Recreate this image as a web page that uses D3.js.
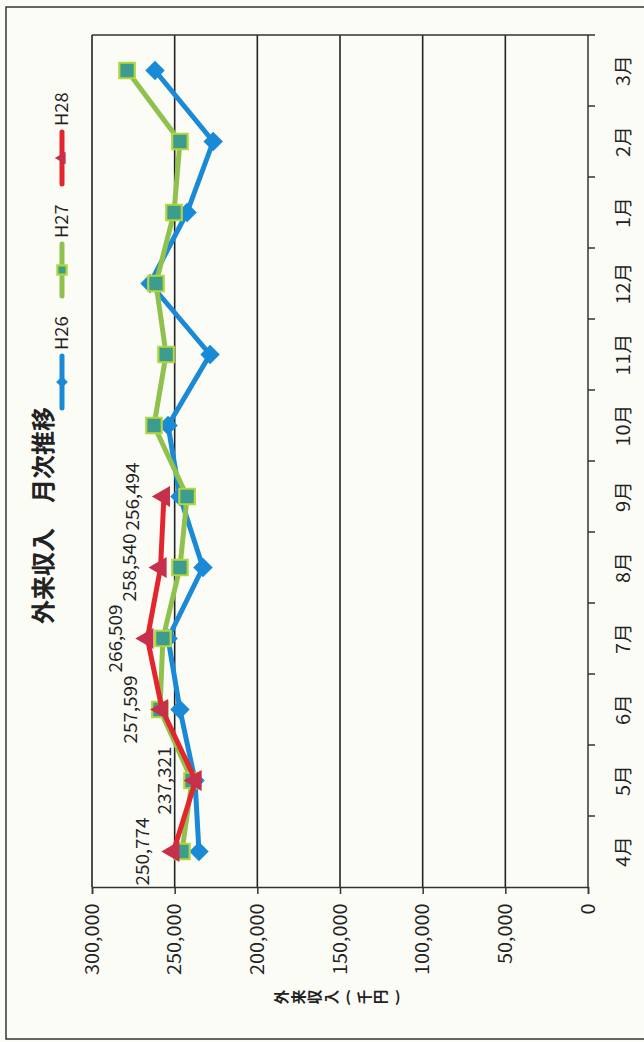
<!DOCTYPE html>
<html lang="ja">
<head>
<meta charset="utf-8">
<title>外来収入 月次推移</title>
<script src="https://cdn.jsdelivr.net/npm/d3@7"></script>
<style>
  body { margin: 0; background: #fcfcf7; }
  svg { display: block; }
  text { font-family: "Noto Sans CJK JP", "Noto Sans", sans-serif; fill: #222; }
</style>
</head>
<body>
<script>
// data (months run bottom to top, the chart is turned on its side)
var months = ["4月","5月","6月","7月","8月","9月","10月","11月","12月","1月","2月","3月"];
var seriesNames = ["H26","H27","H28"];
var h26 = [235300, 237700, 246800, 254000, 232900, 246800, 254000, 228600, 264900, 242500, 226700, 261900];
var h27 = [245600, 239500, 258900, 257100, 246800, 242500, 262500, 255200, 261300, 250400, 246800, 278800];
var h28 = [250774, 237321, 257599, 266509, 258540, 256494];
var valueTicks = [0, 50000, 100000, 150000, 200000, 250000, 300000];

var w = 644, h = 1042;
var colors = { H26: "#1a8ad6", H27: "#8fc14c", H28: "#e3262e" };

var svg = d3.select("body").append("svg")
  .attr("width", w)
  .attr("height", h);

// outer frame
svg.append("rect")
  .attr("x", 6).attr("y", 7)
  .attr("width", 660).attr("height", 1032)
  .attr("fill", "none")
  .attr("stroke", "#333")
  .attr("stroke-width", 1.5);

var xScale = d3.scaleLinear().domain([0, 300000]).range([588, 92]);
var yScale = d3.scaleBand().domain(months).range([887, 35]);
var yc = function(m) { return yScale(m) + yScale.bandwidth() / 2; };

// gridlines
svg.selectAll("line.grid")
  .data(valueTicks.filter(function(d) { return d > 0; }))
  .enter().append("line")
  .attr("class", "grid")
  .attr("x1", function(d) { return xScale(d); })
  .attr("x2", function(d) { return xScale(d); })
  .attr("y1", 35).attr("y2", 887)
  .attr("stroke", "#222").attr("stroke-width", 1.6);

// top border of plot area
svg.append("line")
  .attr("x1", 92).attr("x2", 588).attr("y1", 35).attr("y2", 35)
  .attr("stroke", "#333").attr("stroke-width", 1.5);

// value axis (at the bottom)
var xAxis = d3.axisBottom(xScale)
  .tickValues(valueTicks)
  .tickSize(7)
  .tickFormat(d3.format(","));
var gx = svg.append("g")
  .attr("transform", "translate(0,887)")
  .call(xAxis);
gx.select(".domain").attr("stroke", "#333").attr("stroke-width", 1.5);
gx.selectAll(".tick line").attr("stroke", "#333").attr("stroke-width", 1.5);
gx.selectAll(".tick text")
  .attr("transform", "rotate(-90) scale(1.1,1)")
  .attr("x", -15).attr("y", 0).attr("dy", "0.35em")
  .attr("text-anchor", "end")
  .attr("font-size", 18)
  .style("font-family", "\"Noto Sans CJK JP\", sans-serif")
  .attr("fill", "#222");

// axis title, stacked characters turned with the chart
var axisTitle = "外来収入(千円)".split("");
var tSpace = 16.5;
var tStart = 340 - (axisTitle.length - 1) * tSpace / 2;
svg.selectAll("text.atitle")
  .data(axisTitle)
  .enter().append("text")
  .attr("class", "atitle")
  .attr("transform", function(d, i) {
    var x = tStart + i * tSpace;
    return "translate(" + x + ",997)" + (d === "(" || d === ")" ? "" : " rotate(-90)");
  })
  .attr("text-anchor", "middle")
  .attr("dy", "0.35em")
  .attr("font-size", 14.5)
  .attr("font-weight", "bold")
  .text(function(d) { return d; });

// category axis (at the right)
svg.append("line")
  .attr("x1", 588).attr("x2", 588).attr("y1", 35).attr("y2", 887)
  .attr("stroke", "#333").attr("stroke-width", 1.5);
svg.selectAll("line.ctick")
  .data(months)
  .enter().append("line")
  .attr("class", "ctick")
  .attr("x1", 588).attr("x2", 595)
  .attr("y1", function(d) { return yScale(d); })
  .attr("y2", function(d) { return yScale(d); })
  .attr("stroke", "#333").attr("stroke-width", 1.5);
svg.selectAll("text.clabel")
  .data(months)
  .enter().append("text")
  .attr("class", "clabel")
  .attr("transform", function(d) { return "translate(624," + yc(d) + ") rotate(-90) scale(1.1,1)"; })
  .attr("text-anchor", "middle")
  .attr("dy", "0.35em")
  .attr("font-size", 18)
  .text(function(d) { return d; });

// series
var series = [
  { name: "H26", values: h26 },
  { name: "H27", values: h27 },
  { name: "H28", values: h28 }
];

var line = d3.line()
  .x(function(d) { return xScale(d.v); })
  .y(function(d) { return yc(d.m); });

function drawMarker(g, name, x, y, scale) {
  scale = scale || 1;
  if (name === "H26") {
    g.append("path")
      .attr("d", d3.symbol().type(d3.symbolSquare).size(190 * scale * scale)())
      .attr("transform", "translate(" + x + "," + y + ") rotate(45)")
      .attr("fill", colors.H26);
  } else if (name === "H27") {
    g.append("path")
      .attr("d", d3.symbol().type(d3.symbolSquare).size(240 * scale * scale)())
      .attr("transform", "translate(" + x + "," + y + ")")
      .attr("fill", "#3c9c8e")
      .attr("stroke", "#b4d63a")
      .attr("stroke-width", 2.2);
  } else {
    g.append("path")
      .attr("d", d3.symbol().type(d3.symbolTriangle).size(190 * scale * scale)())
      .attr("transform", "translate(" + x + "," + y + ") rotate(-90)")
      .attr("fill", "#c6304a");
  }
}

series.forEach(function(s) {
  var pts = s.values.map(function(v, i) { return { m: months[i], v: v }; });
  var g = svg.append("g");
  g.append("path")
    .datum(pts)
    .attr("d", line)
    .attr("fill", "none")
    .attr("stroke", colors[s.name])
    .attr("stroke-width", 5)
    .attr("stroke-linejoin", "round");
  pts.forEach(function(p) {
    drawMarker(g, s.name, xScale(p.v), yc(p.m));
  });
});

// data labels for H28
svg.selectAll("text.dlabel")
  .data(h28)
  .enter().append("text")
  .attr("class", "dlabel")
  .attr("transform", function(d, i) {
    return "translate(" + (xScale(d) - 31) + "," + yc(months[i]) + ") rotate(-90) scale(1.08,1)";
  })
  .attr("text-anchor", "middle")
  .attr("dy", "0.35em")
  .attr("font-size", 17.5)
  .text(function(d) { return d3.format(",")(d); });

// title, two words with a gap
svg.append("text")
  .attr("transform", "translate(44,576) rotate(-90)")
  .attr("text-anchor", "middle")
  .attr("dy", "0.35em")
  .attr("font-size", 24)
  .attr("font-weight", "bold")
  .text("外来収入");
svg.append("text")
  .attr("transform", "translate(44,455) rotate(-90)")
  .attr("text-anchor", "middle")
  .attr("dy", "0.35em")
  .attr("font-size", 24)
  .attr("font-weight", "bold")
  .text("月次推移");

// legend
var legendStep = 112;
seriesNames.forEach(function(name, i) {
  var y0 = 408 - i * legendStep;
  var g = svg.append("g");
  g.append("line")
    .attr("x1", 62).attr("x2", 62)
    .attr("y1", y0).attr("y2", y0 - 52)
    .attr("stroke", colors[name]).attr("stroke-width", 5)
    .attr("stroke-linecap", "round");
  drawMarker(g, name, 62, y0 - 26, 0.6);
  g.append("text")
    .attr("transform", "translate(62," + (y0 - 58) + ") rotate(-90) scale(1.08,1)")
    .attr("text-anchor", "start")
    .attr("dy", "0.35em")
    .attr("font-size", 17)
    .text(name);
});
</script>
</body>
</html>
